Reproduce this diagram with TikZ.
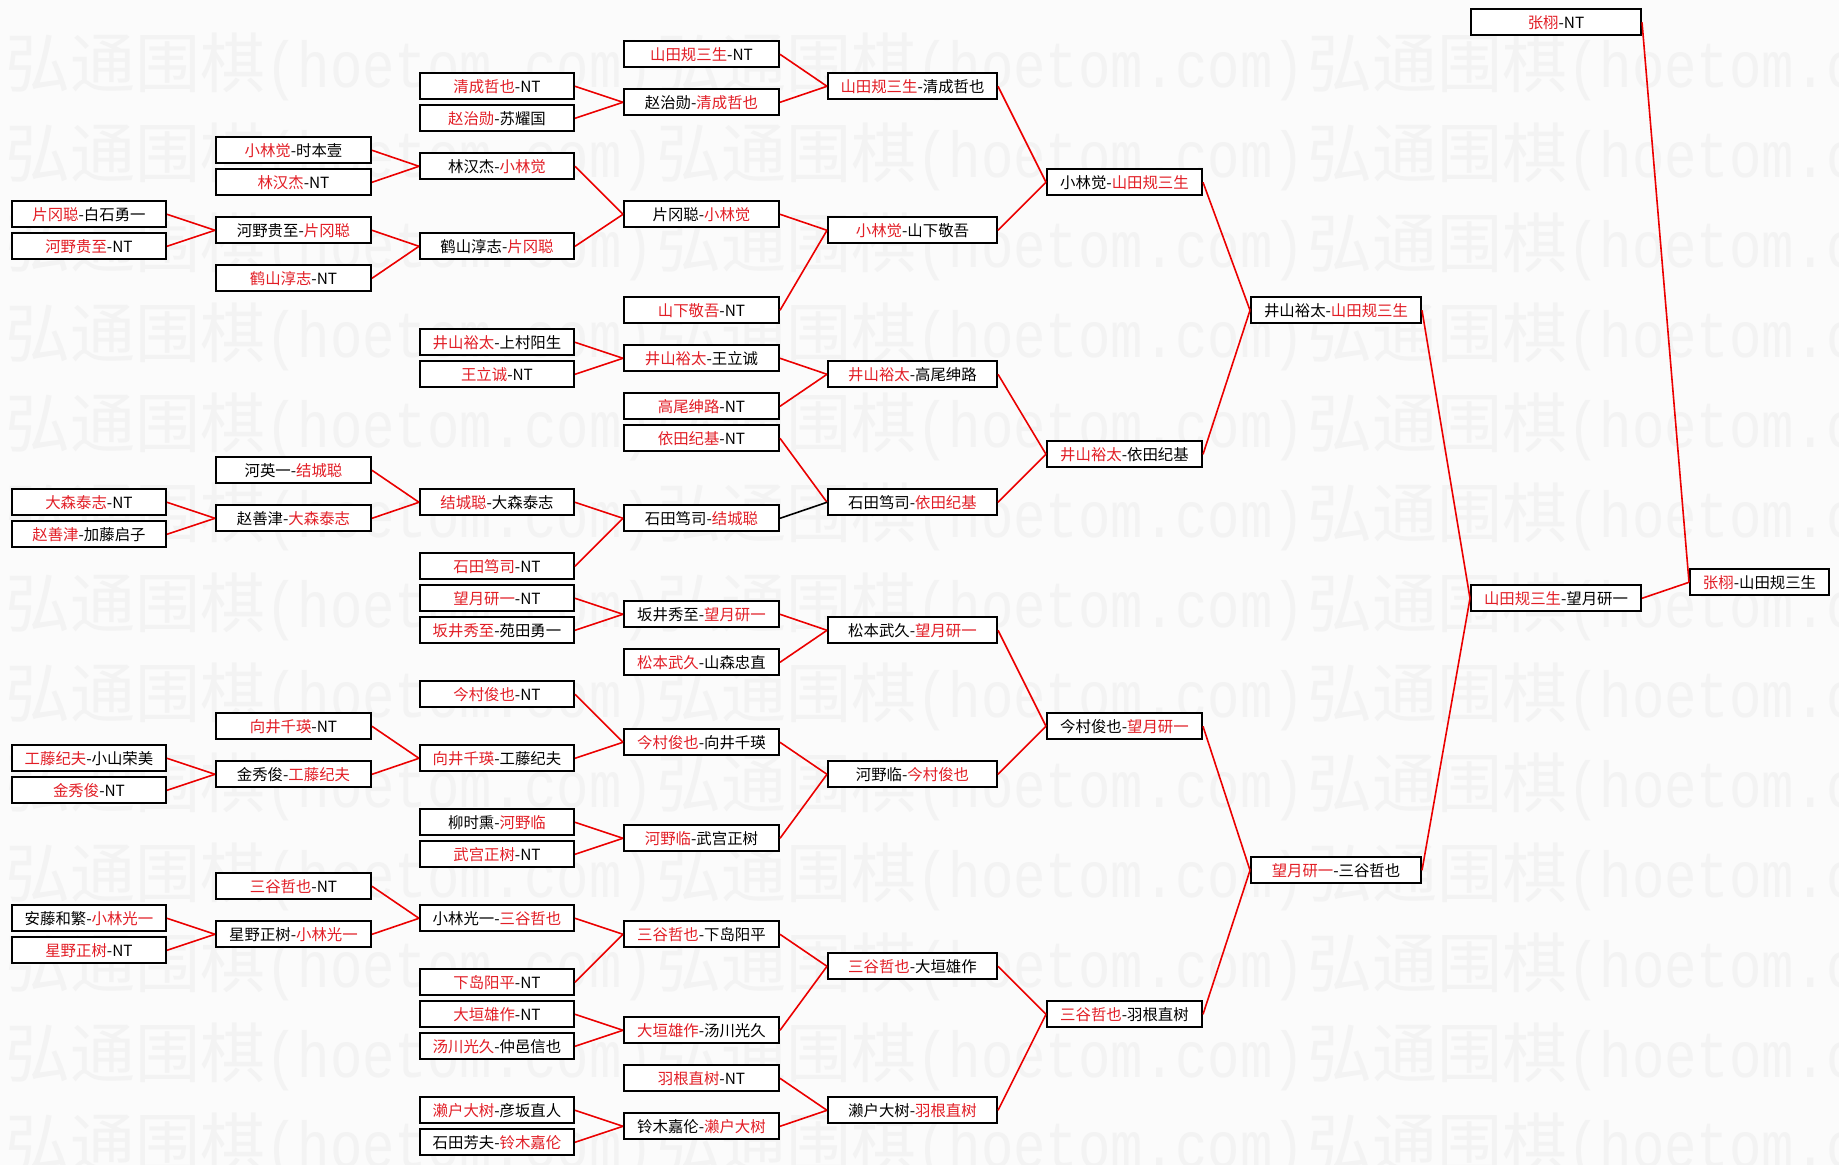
\documentclass[tikz,border=0pt]{standalone}
\usepackage{fontspec}
\setmainfont{Noto Sans CJK SC}
\newfontfamily\wmlat[FakeStretch=0.83]{Liberation Mono}
\definecolor{wred}{RGB}{226,30,38}
\definecolor{lred}{RGB}{235,0,0}
\definecolor{wmk}{RGB}{243,243,243}
\definecolor{bgc}{RGB}{251,251,251}
\newcommand\R[1]{\textcolor{wred}{#1}}
\def\colxa{89}\def\colxb{293.5}\def\colxc{497}\def\colxd{701.5}\def\colxe{912.5}
\def\colxf{1124.5}\def\colxg{1336}\def\colxh{1556}\def\colxi{1759.5}
\tikzset{
  mbox/.style={draw=black, line width=1pt, fill=white, minimum height=13pt, inner sep=0pt,
    font=\fontsize{7.7}{8}\selectfont, text=black},
  wa/.style={minimum width=77pt}, wb/.style={minimum width=77.5pt},
  wc/.style={minimum width=77pt}, wd/.style={minimum width=77.5pt},
  we/.style={minimum width=84.5pt}, wf/.style={minimum width=77.5pt},
  wg/.style={minimum width=85pt}, wh/.style={minimum width=85pt},
  wi/.style={minimum width=69.5pt},
  rl/.style={draw=lred, line width=0.8pt},
  bl/.style={draw=black, line width=0.8pt},
  wm/.style={inner sep=0pt, anchor=west, text=wmk, font=\fontsize{32.5}{34}\selectfont}
}
\newcommand\mb[3]{\node[mbox,w#1] (#1#2) at (\csname colx#1\endcsname, {22.3+16*#2}) {#3};}
\begin{document}
\begin{tikzpicture}[x=0.5pt,y=-0.5pt]
\fill[bgc] (0,0) rectangle (1839,1165);
\useasboundingbox (0,0) rectangle (1839,1165);
\begin{scope}
\clip (0,0) rectangle (1839,1165);
\foreach \j in {0,...,12}{
  \foreach \i in {0,1,2}{
    \node[wm] (wm-\i-\j) at ({5+651*\i},{67+90*\j}) {弘通围棋\wmlat(hoetom.com)};
  }
}
\end{scope}
% column a
\mb{a}{12}{\R{片冈聪}-白石勇一}
\mb{a}{14}{\R{河野贵至}-NT}
\mb{a}{30}{\R{大森泰志}-NT}
\mb{a}{32}{\R{赵善津}-加藤启子}
\mb{a}{46}{\R{工藤纪夫}-小山荣美}
\mb{a}{48}{\R{金秀俊}-NT}
\mb{a}{56}{安藤和繁-\R{小林光一}}
\mb{a}{58}{\R{星野正树}-NT}
% column b
\mb{b}{8}{\R{小林觉}-时本壹}
\mb{b}{10}{\R{林汉杰}-NT}
\mb{b}{13}{河野贵至-\R{片冈聪}}
\mb{b}{16}{\R{鹤山淳志}-NT}
\mb{b}{28}{河英一-\R{结城聪}}
\mb{b}{31}{赵善津-\R{大森泰志}}
\mb{b}{44}{\R{向井千瑛}-NT}
\mb{b}{47}{金秀俊-\R{工藤纪夫}}
\mb{b}{54}{\R{三谷哲也}-NT}
\mb{b}{57}{星野正树-\R{小林光一}}
% column c
\mb{c}{4}{\R{清成哲也}-NT}
\mb{c}{6}{\R{赵治勋}-苏耀国}
\mb{c}{9}{林汉杰-\R{小林觉}}
\mb{c}{14}{鹤山淳志-\R{片冈聪}}
\mb{c}{20}{\R{井山裕太}-上村阳生}
\mb{c}{22}{\R{王立诚}-NT}
\mb{c}{30}{\R{结城聪}-大森泰志}
\mb{c}{34}{\R{石田笃司}-NT}
\mb{c}{36}{\R{望月研一}-NT}
\mb{c}{38}{\R{坂井秀至}-苑田勇一}
\mb{c}{42}{\R{今村俊也}-NT}
\mb{c}{46}{\R{向井千瑛}-工藤纪夫}
\mb{c}{50}{柳时熏-\R{河野临}}
\mb{c}{52}{\R{武宫正树}-NT}
\mb{c}{56}{小林光一-\R{三谷哲也}}
\mb{c}{60}{\R{下岛阳平}-NT}
\mb{c}{62}{\R{大垣雄作}-NT}
\mb{c}{64}{\R{汤川光久}-仲邑信也}
\mb{c}{68}{\R{濑户大树}-彦坂直人}
\mb{c}{70}{石田芳夫-\R{铃木嘉伦}}
% column d
\mb{d}{2}{\R{山田规三生}-NT}
\mb{d}{5}{赵治勋-\R{清成哲也}}
\mb{d}{12}{片冈聪-\R{小林觉}}
\mb{d}{18}{\R{山下敬吾}-NT}
\mb{d}{21}{\R{井山裕太}-王立诚}
\mb{d}{24}{\R{高尾绅路}-NT}
\mb{d}{26}{\R{依田纪基}-NT}
\mb{d}{31}{石田笃司-\R{结城聪}}
\mb{d}{37}{坂井秀至-\R{望月研一}}
\mb{d}{40}{\R{松本武久}-山森忠直}
\mb{d}{45}{\R{今村俊也}-向井千瑛}
\mb{d}{51}{\R{河野临}-武宫正树}
\mb{d}{57}{\R{三谷哲也}-下岛阳平}
\mb{d}{63}{\R{大垣雄作}-汤川光久}
\mb{d}{66}{\R{羽根直树}-NT}
\mb{d}{69}{铃木嘉伦-\R{濑户大树}}
% column e
\mb{e}{4}{\R{山田规三生}-清成哲也}
\mb{e}{13}{\R{小林觉}-山下敬吾}
\mb{e}{22}{\R{井山裕太}-高尾绅路}
\mb{e}{30}{石田笃司-\R{依田纪基}}
\mb{e}{38}{松本武久-\R{望月研一}}
\mb{e}{47}{河野临-\R{今村俊也}}
\mb{e}{59}{\R{三谷哲也}-大垣雄作}
\mb{e}{68}{濑户大树-\R{羽根直树}}
% column f
\mb{f}{10}{小林觉-\R{山田规三生}}
\mb{f}{27}{\R{井山裕太}-依田纪基}
\mb{f}{44}{今村俊也-\R{望月研一}}
\mb{f}{62}{\R{三谷哲也}-羽根直树}
% column g
\mb{g}{18}{井山裕太-\R{山田规三生}}
\mb{g}{53}{\R{望月研一}-三谷哲也}
% column h
\mb{h}{0}{\R{张栩}-NT}
\mb{h}{36}{\R{山田规三生}-望月研一}
% column i
\mb{i}{35}{\R{张栩}-山田规三生}
% connectors
\foreach \u/\v in {d2/e4,d5/e4,c4/d5,c6/d5,b8/c9,b10/c9,a12/b13,a14/b13,b13/c14,b16/c14,
  c9/d12,c14/d12,d12/e13,d18/e13,e4/f10,e13/f10,c20/d21,c22/d21,d21/e22,d24/e22,
  a30/b31,a32/b31,b28/c30,b31/c30,c30/d31,c34/d31,d26/e30,e22/f27,e30/f27,f10/g18,f27/g18,
  c36/d37,c38/d37,d37/e38,d40/e38,a46/b47,a48/b47,b44/c46,b47/c46,c42/d45,c46/d45,
  c50/d51,c52/d51,d45/e47,d51/e47,e38/f44,e47/f44,a56/b57,a58/b57,b54/c56,b57/c56,
  c56/d57,c60/d57,c62/d63,c64/d63,d57/e59,d63/e59,c68/d69,c70/d69,d66/e68,d69/e68,
  e59/f62,e68/f62,f44/g53,f62/g53,g18/h36,g53/h36,h0/i35,h36/i35}{
  \draw[rl] (\u.east) -- (\v.west);
}
\draw[bl] (d31.east) -- (e30.west);
\end{tikzpicture}
\end{document}
